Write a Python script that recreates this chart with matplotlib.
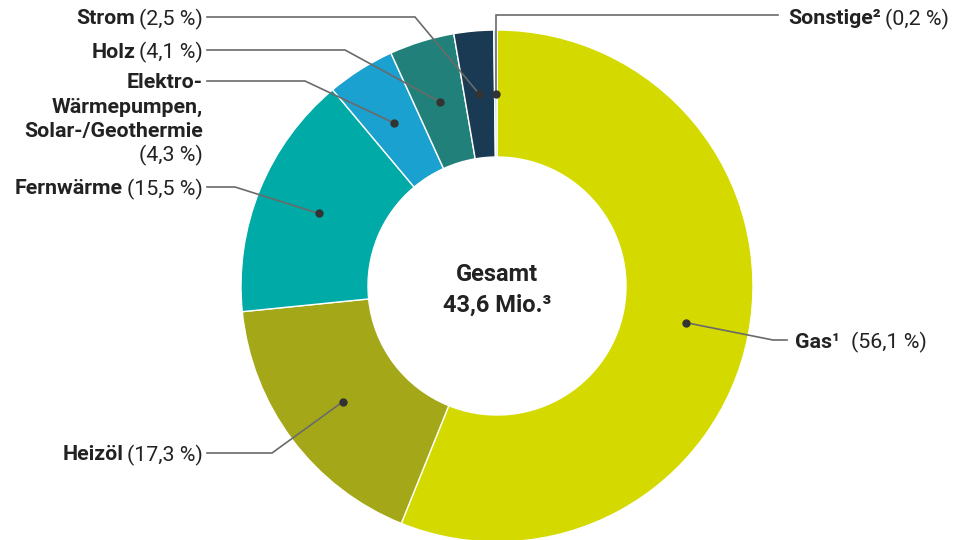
import matplotlib.pyplot as plt
import numpy as np

plt.rcParams['font.family'] = ['Roboto', 'DejaVu Sans']

# data
names = ['Gas¹', 'Heizöl', 'Fernwärme', 'Elektro-\nWärmepumpen,\nSolar-/Geothermie',
         'Holz', 'Strom', 'Sonstige²']
shares = [56.1, 17.3, 15.5, 4.3, 4.1, 2.5, 0.2]
share_labels = ['(56,1 %)', '(17,3 %)', '(15,5 %)', '(4,3 %)', '(4,1 %)', '(2,5 %)', '(0,2 %)']
colors = ['#d4da00', '#a4a717', '#00aaa6', '#1ba1cf', '#22807a', '#1a3952', '#a8d8ea']
total_lines = ['Gesamt', '43,6 Mio.³']

W, H = 965, 540
fig = plt.figure(figsize=(W / 100, H / 100), dpi=100)
ax = fig.add_axes([0, 0, 1, 1])

cx, cy, R, ring = 497, H - 286, 256, 127
wedges, _ = ax.pie(shares, colors=colors, startangle=90, counterclock=False,
                   radius=R, center=(cx, cy), frame=True,
                   wedgeprops=dict(width=ring, edgecolor='white', linewidth=1))
ax.set_xlim(0, W)
ax.set_ylim(0, H)
ax.set_aspect('equal')
ax.axis('off')

for txt, y in zip(total_lines, [272, 303]):
    ax.text(cx, H - y, txt, ha='center', va='center_baseline', fontsize=17,
            fontweight='bold', color='#222222')

# label layout: (side, text x, text y, elbow x, line end x) in pixel coords from top
layout = [
    ('right', 795, 340, 773, 787),
    ('left', 203, 453, 272, 207),
    ('left', 203, 187, 235, 207),
    ('left', 203, 81, 305, 207),
    ('left', 203, 50, 345, 207),
    ('left', 203, 17, 415, 207),
    ('right', 788, 17, None, 778),
]

fig.canvas.draw()
rend = fig.canvas.get_renderer()
fs = 15.4
txt_col = '#222222'
line_col = '#6a6a6a'

for w, name, pct, (side, tx, ty, ex, lx) in zip(wedges, names, share_labels, layout):
    ang = np.deg2rad((w.theta1 + w.theta2) / 2)
    rm = R - ring / 2
    dx, dy = cx + rm * np.cos(ang), cy + rm * np.sin(ang)
    ly = H - ty
    if ex is None:
        ex = dx
        ly = H - 15
    ax.plot([dx, ex, lx], [dy, ly, ly], color=line_col, lw=1.2, solid_joinstyle='miter')
    ax.plot(dx, dy, 'o', color='#333333', ms=5)

    if side == 'left':
        if '\n' in name:
            step = 24
            parts = name.split('\n')
            for i, part in enumerate(parts):
                ax.text(tx, H - ty - step * i, part, ha='right', va='center_baseline',
                        fontsize=fs, fontweight='bold', color=txt_col)
            ax.text(tx, H - ty - step * len(parts), pct, ha='right', va='center_baseline',
                    fontsize=fs, color=txt_col)
        else:
            t1 = ax.text(tx, H - ty, pct, ha='right', va='center_baseline', fontsize=fs,
                         color=txt_col)
            bb = t1.get_window_extent(rend)
            ax.text(tx - bb.width - 4, H - ty, name, ha='right', va='center_baseline',
                    fontsize=fs, fontweight='bold', color=txt_col)
    else:
        t1 = ax.text(tx, H - ty, name, ha='left', va='center_baseline', fontsize=fs,
                     fontweight='bold', color=txt_col)
        bb = t1.get_window_extent(rend)
        gap = 11 if name.startswith('Gas') else 4
        ax.text(tx + bb.width + gap, H - ty, pct, ha='left', va='center_baseline',
                fontsize=fs, color=txt_col)

fig.savefig('out.png', dpi=100)
